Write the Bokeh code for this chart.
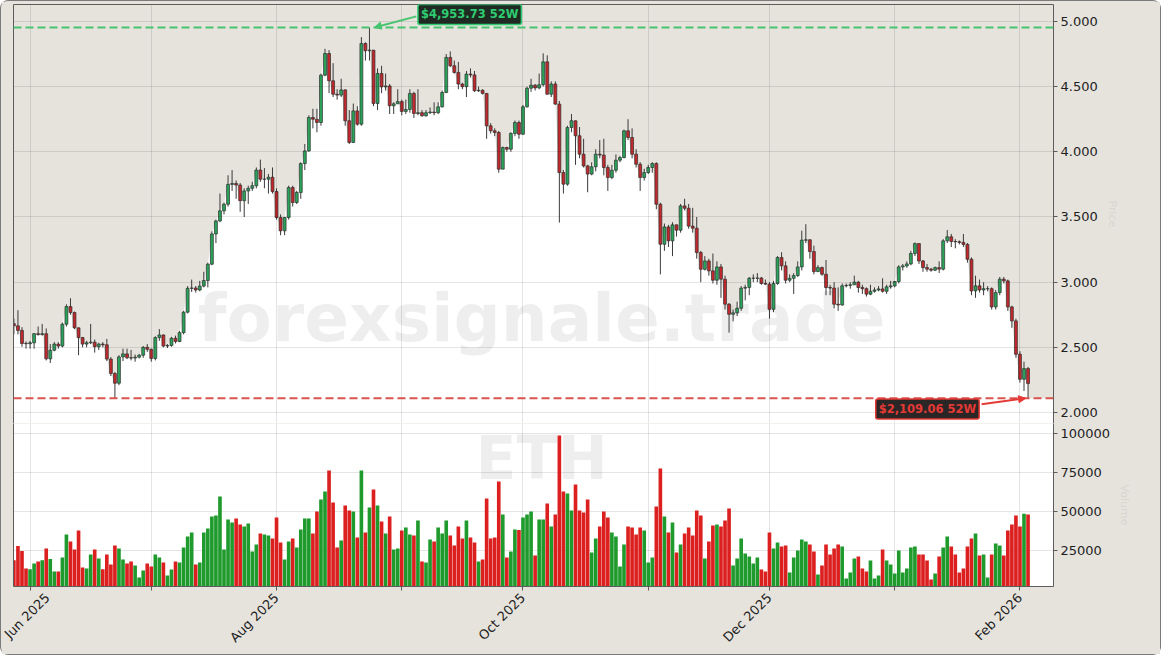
import numpy as np
import pandas as pd
from bokeh.plotting import figure
from bokeh.layouts import column
from bokeh.models import (Range1d, LinearAxis, FixedTicker, CustomJSTickFormatter,
                          NumeralTickFormatter, Span, Label, Arrow, NormalHead, BoxAnnotation)
from bokeh.core.properties import value
from bokeh.embed import file_html
from bokeh.resources import INLINE

# ---------------- data (daily ETH) ----------------
start_date = "2025-05-28"
first_open = 2682.0
close = [
    2665, 2630, 2530, 2528,
    2535, 2605, 2598, 2605, 2412, 2478, 2525, 2510, 2678, 2813,
    2767, 2650, 2575, 2525, 2535, 2540, 2505, 2525, 2520, 2410,
    2300, 2225, 2427, 2450, 2420, 2418, 2425, 2440, 2500, 2485,
    2415, 2575, 2595, 2510, 2515, 2570, 2545, 2613, 2770, 2953,
    2955, 2940, 2970, 3013, 3138, 3370, 3470, 3547, 3598, 3750,
    3757, 3745, 3625, 3700, 3720, 3740, 3860, 3790, 3790, 3805, 3695,
    3496, 3394, 3496, 3726, 3611, 3688, 3910, 4007, 4263, 4250,
    4225, 4588, 4754, 4545, 4442, 4435, 4475, 4238, 4072, 4314,
    4212, 4831, 4775, 4780, 4371, 4601, 4498, 4505, 4353, 4368, 4385,
    4310, 4325, 4448, 4294, 4300, 4276, 4300, 4305, 4300, 4345,
    4455, 4724, 4660, 4609, 4520, 4500, 4596, 4590, 4468, 4472,
    4448, 4199, 4161, 4148, 3867, 4033, 4020, 4141, 4225, 4135,
    4345, 4488, 4511, 4490, 4515, 4690, 4442, 4520, 4366, 3841,
    3752, 4187, 4238, 4123, 3982, 3892, 3829, 3885, 3982, 3975,
    3880, 3803, 3859, 3936, 3956, 4161, 4110, 3982, 3905, 3803, 3841,
    3880, 3910, 3598, 3291, 3424, 3317, 3440, 3399, 3585, 3567,
    3430, 3414, 3227, 3099, 3163, 3087, 3015, 3117, 3023, 2831,
    2754, 2765, 2800, 2954, 2960, 3030, 3030, 3032, 2990, 2985,
    2792, 2990, 3189, 3125, 3015, 3030, 3051, 3117, 3322, 3325,
    3235, 3081, 3112, 3061, 2959, 2955, 2831, 2825, 2972, 2975,
    2980, 3000, 2959, 2950, 2908, 2930, 2940, 2948, 2930, 2964, 2972,
    3005, 3117, 3125, 3140, 3220, 3296, 3163, 3112, 3100, 3092,
    3112, 3100, 3317, 3348, 3312, 3310, 3305, 3290, 3176, 2933,
    2972, 2940, 2950, 2950, 2810, 2920, 3023, 3010, 2810, 2703, 2447,
    2255, 2337, 2222,
]
high = [
    2720, 2785, 2655, 2545,
    2550, 2610, 2660, 2680, 2645, 2525, 2540, 2540, 2690, 2830,
    2877, 2775, 2650, 2580, 2550, 2680, 2560, 2535, 2540, 2565,
    2425, 2310, 2440, 2490, 2490, 2480, 2445, 2450, 2510, 2525,
    2490, 2585, 2640, 2600, 2525, 2580, 2590, 2625, 2780, 2970,
    3020, 2970, 3010, 3080, 3150, 3390, 3480, 3680, 3610, 3820,
    3860, 3780, 3760, 3720, 3740, 3770, 3880, 3940, 3875, 3830, 3880,
    3720, 3520, 3500, 3740, 3740, 3700, 3920, 4060, 4280, 4330,
    4330, 4600, 4790, 4780, 4680, 4480, 4560, 4480, 4320, 4370,
    4350, 4880, 4840, 4953.73, 4780, 4640, 4660, 4600, 4520, 4380, 4480,
    4400, 4400, 4480, 4460, 4480, 4320, 4320, 4340, 4380, 4380,
    4470, 4750, 4770, 4700, 4690, 4530, 4620, 4640, 4620, 4500,
    4480, 4450, 4220, 4180, 4160, 4040, 4040, 4150, 4240, 4240,
    4360, 4500, 4560, 4520, 4600, 4755, 4740, 4540, 4540, 4390,
    3860, 4200, 4290, 4240, 4190, 4100, 3900, 3920, 4020, 4090,
    4100, 3900, 3900, 3980, 3970, 4170, 4250, 4180, 4020, 3920, 3870,
    3900, 3920, 3920, 3610, 3450, 3440, 3460, 3440, 3600, 3640,
    3600, 3570, 3500, 3240, 3200, 3180, 3220, 3160, 3140, 3050,
    2840, 2790, 2850, 2970, 2980, 3040, 3060, 3070, 3040, 3020,
    3000, 3010, 3200, 3230, 3160, 3060, 3070, 3160, 3395, 3445,
    3330, 3280, 3130, 3120, 3170, 2980, 3000, 2960, 2990, 2990,
    3000, 3050, 3010, 2980, 2960, 2980, 2960, 2970, 3030, 2980, 3010,
    3010, 3130, 3140, 3160, 3240, 3305, 3300, 3170, 3140, 3110,
    3120, 3160, 3330, 3400, 3370, 3330, 3320, 3370, 3300, 3190,
    3050, 3020, 3000, 2970, 2960, 2940, 3040, 3040, 3020, 2820, 2720,
    2470, 2390, 2350,
]
low = [
    2600, 2600, 2505, 2490,
    2490, 2490, 2590, 2590, 2400, 2380, 2470, 2490, 2500, 2660,
    2750, 2640, 2440, 2500, 2500, 2525, 2460, 2480, 2500, 2395,
    2280, 2112, 2210, 2395, 2410, 2400, 2390, 2415, 2420, 2465,
    2390, 2400, 2550, 2500, 2495, 2505, 2530, 2540, 2600, 2760,
    2925, 2920, 2930, 2960, 2960, 3130, 3300, 3460, 3520, 3580,
    3700, 3640, 3540, 3500, 3600, 3700, 3720, 3770, 3720, 3680, 3680,
    3480, 3360, 3360, 3480, 3580, 3600, 3640, 3860, 4000, 4180,
    4150, 4200, 4580, 4450, 4420, 4400, 4420, 4200, 4060, 4070,
    4200, 4200, 4700, 4700, 4350, 4320, 4450, 4470, 4290, 4290, 4370,
    4280, 4290, 4300, 4260, 4280, 4270, 4270, 4290, 4280, 4290,
    4340, 4450, 4650, 4600, 4480, 4480, 4420, 4570, 4460, 4460,
    4440, 4100, 4140, 4120, 3840, 3870, 4000, 4000, 4120, 4100,
    4130, 4340, 4460, 4470, 4480, 4500, 4440, 4420, 4360, 3457,
    3680, 3740, 4150, 3900, 3950, 3880, 3690, 3820, 3850, 3950,
    3820, 3700, 3790, 3840, 3920, 3950, 4090, 3950, 3880, 3700, 3780,
    3830, 3840, 3560, 3060, 3240, 3270, 3200, 3350, 3380, 3550,
    3410, 3380, 3180, 3000, 3090, 3050, 2990, 2980, 2880, 2790,
    2613, 2700, 2740, 2780, 2860, 2900, 3000, 3000, 2980, 2980,
    2720, 2770, 2980, 3090, 2990, 3000, 2910, 3040, 3090, 3300,
    3180, 3060, 3080, 3050, 2900, 2900, 2800, 2780, 2820, 2960,
    2950, 2980, 2920, 2910, 2890, 2900, 2920, 2930, 2920, 2910, 2950,
    2960, 2990, 3090, 3110, 3130, 3200, 3140, 3080, 3080, 3080,
    3085, 3070, 3090, 3300, 3270, 3260, 3290, 3270, 3150, 2900,
    2880, 2920, 2900, 2930, 2790, 2790, 2900, 2990, 2780, 2650, 2420,
    2230, 2165, 2109.06,
]
volume = [
    19000, 28000, 24800, 13700,
    13300, 16900, 18200, 19000, 26500, 19700, 11800, 11800, 20700, 35400,
    30900, 25800, 38000, 14300, 13700, 22600, 25800, 20100, 13300, 22600,
    16300, 28400, 26500, 19500, 16900, 18200, 15600, 8000, 12400, 16900,
    15000, 22600, 20700, 17500, 9200, 13100, 18200, 17500, 27100, 34100,
    36700, 16300, 17500, 36700, 39200, 46900, 47500, 59600, 25800, 45000,
    43000, 45600, 41800, 40500, 42400, 24600, 29000, 36000, 35400, 34800, 32800,
    46200, 30300, 19500, 30900, 32800, 27100, 38600, 45600, 45600, 36000,
    50000, 57700, 62800, 76200, 55800, 27100, 31600, 53900, 50700, 50000,
    33500, 76200, 36700, 52600, 64100, 53900, 43700, 36000, 46900, 25800, 26500,
    38000, 39900, 35400, 34800, 44300, 18200, 17500, 32200, 30900, 39900,
    36000, 44300, 34800, 28400, 40500, 32800, 44300, 33500, 30300, 18200,
    19500, 58400, 32800, 33500, 69200, 48100, 20700, 24600, 38600, 38200,
    46200, 48100, 50000, 22000, 45000, 45000, 55200, 40500, 48100, 98500,
    62800, 61500, 50700, 67300, 50700, 49400, 57700, 23900, 32800, 40500,
    50000, 46200, 36700, 34100, 15000, 29000, 40500, 39900, 35400, 39900, 38000,
    17500, 20700, 53200, 77500, 46900, 36700, 43000, 23900, 29000, 36000,
    39900, 34800, 50700, 47500, 20100, 30900, 41100, 41800, 40500, 44300,
    52000, 15600, 20100, 32800, 23200, 21300, 16900, 20700, 13100, 11800,
    36700, 26500, 30300, 27700, 28400, 11200, 20700, 25200, 32200, 30900,
    29000, 24600, 9900, 15600, 29000, 22600, 26500, 29000, 27700, 7300,
    11200, 20100, 21300, 13700, 11800, 18800, 7300, 9200, 25800, 18800, 16300,
    10500, 25200, 11200, 13700, 27100, 27700, 22600, 22600, 18800, 6700,
    10500, 21300, 27100, 34100, 27700, 22600, 11200, 13700, 27700, 32800,
    36000, 22000, 22600, 8000, 22600, 29700, 28400, 22000, 38000, 41800, 47500,
    40500, 48700, 48100,
]
month_labels = ["Jun 2025", "", "Aug 2025", "", "Oct 2025", "", "Dec 2025", "", "Feb 2026"]
price_ticks = [2000, 2500, 3000, 3500, 4000, 4500, 5000]
volume_ticks = [25000, 50000, 75000, 100000]
symbol = "ETH"
watermark = "forexsignale.trade"
range_tag = "52W"

# ---------------- derived ----------------
n = min(len(close), len(high), len(low), len(volume))
close, high, low, volume = close[:n], high[:n], low[:n], volume[:n]
dates = pd.date_range(start_date, periods=n, freq="D")
idx = list(range(n))
opens = [first_open] + close[:-1]
high = [max(h, o, c) for h, o, c in zip(high, opens, close)]
low = [min(l, o, c) for l, o, c in zip(low, opens, close)]
up = [c >= o for o, c in zip(opens, close)]
month_pos = [i for i, d in enumerate(dates) if d.day == 1][:len(month_labels)]

BEIGE = "#e6e3dd"
SPINE = "#5c5c5c"
C_UP, C_DN = "#2aa35a", "#c3282c"
V_UP, V_DN = "#1f9a2c", "#dc1f1f"
G_LINE, R_LINE = "#46c470", "#d9534f"

hi_i = int(np.argmax(high)); max_high = high[hi_i]
lo_i = int(np.argmin(low)); min_low = low[lo_i]

x_range = Range1d(-0.1, 257.3)
month_ticker = FixedTicker(ticks=month_pos)
price_ticker = FixedTicker(ticks=price_ticks)
vol_ticker = FixedTicker(ticks=volume_ticks)

dot_fmt = CustomJSTickFormatter(code=r"return Math.round(tick).toString().replace(/\B(?=(\d{3})+(?!\d))/g, '.');")
month_fmt = CustomJSTickFormatter(args=dict(pos=month_pos, labels=month_labels),
                                  code="const i = pos.indexOf(Math.round(tick)); return i >= 0 ? labels[i] : '';")

def spine_axis():
    return LinearAxis(ticker=FixedTicker(ticks=[]), axis_line_color=SPINE, axis_line_width=1,
                      major_tick_line_color=None, minor_tick_line_color=None,
                      major_label_text_font_size="0px")

def style_right(ax):
    ax.axis_line_color = SPINE
    ax.major_tick_line_color = SPINE
    ax.major_tick_out = 4
    ax.major_tick_in = 0
    ax.minor_tick_line_color = None
    ax.major_label_text_font = "DejaVu Sans"
    ax.major_label_text_font_size = "13px"
    ax.major_label_text_color = "#1e1e1e"
    ax.major_label_standoff = 3
    ax.axis_label_text_color = "#d9d6cf"
    ax.axis_label_text_font = "DejaVu Sans"
    ax.axis_label_text_font_size = "11px"
    ax.axis_label_text_font_style = "normal"

# ---------------- price panel ----------------
p = figure(width=1159, height=422, x_range=x_range, y_range=Range1d(1916, 5130),
           output_backend="svg", toolbar_location=None,
           x_axis_location=None, y_axis_location=None,
           min_border_left=12, min_border_right=107, min_border_top=3, min_border_bottom=0,
           background_fill_color=BEIGE, border_fill_color=BEIGE, outline_line_color=None)
p.xgrid.ticker = month_ticker
p.ygrid.ticker = price_ticker
for g in (p.xgrid[0], p.ygrid[0]):
    g.grid_line_color = "black"
    g.grid_line_alpha = 0.10
    g.level = "glyph"

p.add_layout(BoxAnnotation(top=min_low, fill_color="white", fill_alpha=1.0,
                           line_color=None, level="underlay"))
p.varea(x=idx, y1=p.y_range.start, y2=close, fill_color="white", fill_alpha=1.0, level="underlay")

p.text(x=[(x_range.start + x_range.end) / 2 + 2], y=[2721], text=[watermark],
       text_font=value("DejaVu Sans"), text_font_style="bold", text_font_size="66px",
       text_color="black", text_alpha=0.065, text_align="center", text_baseline="middle")

p.segment(x0=idx, y0=low, x1=idx, y1=high, line_color="#3a3a3a", line_width=1)
p.vbar(x=idx, width=0.72,
       top=[max(o, c) for o, c in zip(opens, close)],
       bottom=[min(o, c) for o, c in zip(opens, close)],
       fill_color=[C_UP if u else C_DN for u in up], line_color="#2e2e2e", line_width=0.7)

p.add_layout(Span(location=max_high, dimension="width", line_color=G_LINE,
                  line_width=2, line_dash="8 4"))
p.add_layout(Span(location=min_low, dimension="width", line_color=R_LINE,
                  line_width=2, line_dash="8 4"))

p.add_layout(Arrow(end=NormalHead(size=7, fill_color=G_LINE, line_color=G_LINE),
                   x_start=hi_i + 11.6, y_start=max_high + 85, x_end=hi_i + 1.2, y_end=max_high,
                   line_color=G_LINE, line_width=2))
p.add_layout(Label(x=hi_i + 12, y=max_high + 100, text=f"${max_high:,.2f} {range_tag}",
                   text_font="DejaVu Sans", text_font_style="bold", text_font_size="11.5px",
                   text_color="#2ecc71", text_align="left", text_baseline="middle",
                   background_fill_color="#1f2a22", background_fill_alpha=1.0,
                   border_line_color="#2ecc71", border_line_width=1.5,
                   padding=3, border_radius=2))

p.add_layout(Arrow(end=NormalHead(size=7, fill_color="#e53935", line_color="#e53935"),
                   x_start=lo_i - 11.5, y_start=min_low - 45, x_end=lo_i - 0.6, y_end=min_low,
                   line_color="#e53935", line_width=2))
p.add_layout(Label(x=lo_i - 12.1, y=min_low - 82, text=f"${min_low:,.2f} {range_tag}",
                   text_font="DejaVu Sans", text_font_style="bold", text_font_size="11.5px",
                   text_color="#e53935", text_align="right", text_baseline="middle",
                   background_fill_color="#2a2626", background_fill_alpha=1.0,
                   border_line_color="#e53935", border_line_width=1.5,
                   padding=3, border_radius=2))

pr = LinearAxis(ticker=price_ticker, formatter=dot_fmt, axis_label="Price")
style_right(pr)
p.add_layout(pr, "right")
p.add_layout(spine_axis(), "left")
p.add_layout(spine_axis(), "above")

# ---------------- volume panel ----------------
v = figure(width=1159, height=231, x_range=x_range, y_range=Range1d(2230, 106200),
           output_backend="svg", toolbar_location=None,
           x_axis_location=None, y_axis_location=None,
           min_border_left=12, min_border_right=107, min_border_top=0, min_border_bottom=68,
           background_fill_color="white", border_fill_color=BEIGE, outline_line_color=None)
v.xgrid.ticker = month_ticker
v.ygrid.ticker = vol_ticker
for g in (v.xgrid[0], v.ygrid[0]):
    g.grid_line_color = "black"
    g.grid_line_alpha = 0.10

v.text(x=[(x_range.start + x_range.end) / 2 + 2], y=[84500], text=[symbol],
       text_font=value("DejaVu Sans"), text_font_style="bold", text_font_size="60px",
       text_color="black", text_alpha=0.065, text_align="center", text_baseline="middle")

v.vbar(x=idx, width=0.9, top=volume, bottom=0,
       fill_color=[V_UP if u else V_DN for u in up], line_color=None)

vr = LinearAxis(ticker=vol_ticker, formatter=NumeralTickFormatter(format="0"), axis_label="Volume")
style_right(vr)
v.add_layout(vr, "right")
v.add_layout(spine_axis(), "left")

xb = LinearAxis(ticker=month_ticker, formatter=month_fmt, major_label_orientation=np.pi / 4)
xb.axis_line_color = SPINE
xb.major_tick_line_color = SPINE
xb.major_tick_out = 4
xb.major_tick_in = 0
xb.minor_tick_line_color = None
xb.major_label_text_font = "DejaVu Sans"
xb.major_label_text_font_size = "13px"
xb.major_label_text_color = "#1e1e1e"
v.add_layout(xb, "below")

layout = column(p, v, spacing=0,
                styles={"background-color": BEIGE, "border": "1.5px solid #7a7a7a",
                        "border-radius": "8px"})

open("out.html", "w").write(file_html(layout, INLINE))
